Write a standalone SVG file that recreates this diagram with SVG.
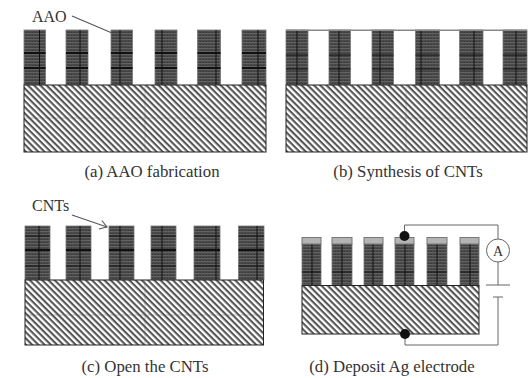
<svg xmlns="http://www.w3.org/2000/svg" width="531" height="378" viewBox="0 0 531 378">
<style>
text{font-family:"Liberation Serif",serif;fill:#333}
.cap{text-anchor:middle;font-size:16.800px}
.lab{font-size:16px}
.p{fill:url(#dark);stroke:#777;stroke-width:.8}
.b{fill:url(#hatch);stroke:#222;stroke-width:1}
.g{fill:#b4b4b4;stroke:#777;stroke-width:1}
.w{fill:none;stroke:#666;stroke-width:1}
.l{fill:none;stroke:#555;stroke-width:1.100}
.k{stroke:#111;stroke-width:1;fill:none}
.h{stroke:#111;stroke-width:2;fill:none}
.s{stroke:#555;stroke-width:.6;fill:none}
</style>
<defs>
<pattern id="hatch" width="4.400" height="4.400" patternUnits="userSpaceOnUse" patternTransform="rotate(45)">
<rect width="4.400" height="4.400" fill="#fff"/><rect width="4.400" height="2.100" fill="#555"/>
</pattern>
<pattern id="dark" width="3" height="3" patternUnits="userSpaceOnUse">
<rect width="3" height="3" fill="#4a4a4a"/><rect width="3" height="1" fill="#626262"/><rect x="1.500" y="2" width="1.500" height="1" fill="#3a3a3a"/>
</pattern>
<marker id="ah" markerWidth="10" markerHeight="12" refX="9" refY="5" orient="auto" markerUnits="userSpaceOnUse"><path d="M2 .5L9 5L2 9.500" fill="none" stroke="#555" stroke-width="1.100"/></marker>
</defs>
<g id="panel-a">
<rect class="p" x="24" y="30" width="21.500" height="55"/>
<rect class="p" x="66" y="30" width="22" height="55"/>
<rect class="p" x="111" y="30" width="21.500" height="55"/>
<rect class="p" x="155" y="30" width="22" height="55"/>
<rect class="p" x="197.500" y="30" width="23" height="55"/>
<rect class="p" x="242" y="30" width="24" height="55"/>
<path class="h" d="M24 53H45.500M66 53H88M111 53H132.500M155 53H177M197.500 53H220.500M242 53H266M24 68H45.500M66 68H88M111 68H132.500M155 68H177M197.500 68H220.500M242 68H266"/>
<path class="k" d="M39.500 30V85M80 30V85M120 30V85M162 30V85M216 30V85M258 30V85"/>
<rect class="b" x="24" y="85" width="242" height="67"/>
<path class="s" d="M145 85V152M24 118H266" opacity=".5"/>
<text class="lab" x="32" y="22">AAO</text>
<text class="cap" x="152" y="177">(a) AAO fabrication</text>
</g>
<g id="panel-b">
<rect class="p" x="286" y="30" width="22" height="55"/>
<rect class="p" x="329" y="30" width="21.500" height="55"/>
<rect class="p" x="372" y="30" width="21.500" height="55"/>
<rect class="p" x="415.500" y="30" width="24" height="55"/>
<rect class="p" x="459.500" y="30" width="23.500" height="55"/>
<rect class="p" x="503" y="30" width="24" height="55"/>
<path class="k" d="M286 55H308M329 55H350.500M372 55H393.500M415.500 55H439.500M459.500 55H483M503 55H527M286 69H308M329 69H350.500M372 69H393.500M415.500 69H439.500M459.500 69H483M503 69H527M297 30V85M339 30V85M380 30V85M421 30V85M474 30V85M516 30V85"/>
<rect x="286" y="29.500" width="241" height="1.500" fill="#888"/>
<rect class="b" x="286" y="85" width="241" height="67"/>
<path class="s" d="M406 85V152M286 118H527" opacity=".5"/>
<text class="cap" x="408" y="177">(b) Synthesis of CNTs</text>
</g>
<g id="panel-c">
<rect class="p" x="25" y="226" width="25" height="54"/>
<rect class="p" x="66" y="226" width="25" height="54"/>
<rect class="p" x="109" y="226" width="25" height="54"/>
<rect class="p" x="151" y="226" width="25" height="54"/>
<rect class="p" x="194" y="226" width="26" height="54"/>
<rect class="p" x="238.500" y="226" width="25.500" height="54"/>
<path class="h" d="M25 250H50M66 250H91M109 250H134M151 250H176M194 250H220M238.500 250H264"/>
<path class="k" d="M25 236H50M66 236H91M109 236H134M151 236H176M194 236H220M238.500 236H264M25 266H50M66 266H91M109 266H134M151 266H176M194 266H220M238.500 266H264M39 226V280M80 226V280M120 226V280M162 226V280M216 226V280M257 226V280"/>
<rect class="b" x="25" y="280" width="238.500" height="65"/>
<path class="s" d="M145 280V345M25 315H263.500" opacity=".6"/>
<text class="lab" x="32" y="211">CNTs</text>
<text class="cap" x="145" y="372">(c) Open the CNTs</text>
</g>
<g id="panel-d">
<rect class="p" x="302" y="244" width="19" height="41"/>
<rect class="p" x="332" y="244" width="20" height="41"/>
<rect class="p" x="364" y="244" width="19" height="41"/>
<rect class="p" x="395" y="244" width="19" height="41"/>
<rect class="p" x="427" y="244" width="20" height="41"/>
<rect class="p" x="460" y="244" width="19" height="41"/>
<path class="k" d="M302 272H321M332 272H352M364 272H383M395 272H414M427 272H447M460 272H479M312 244V285M342 244V285M373 244V285M405 244V285M437 244V285M470 244V285"/>
<rect class="g" x="302" y="237.500" width="19" height="6.500"/>
<rect class="g" x="332" y="237.500" width="20" height="6.500"/>
<rect class="g" x="364" y="237.500" width="19" height="6.500"/>
<rect class="g" x="395" y="237.500" width="19" height="6.500"/>
<rect class="g" x="427" y="237.500" width="20" height="6.500"/>
<rect class="g" x="460" y="237.500" width="19" height="6.500"/>
<rect class="b" x="302" y="285.500" width="177" height="48.500"/>
<text class="cap" x="392" y="372">(d) Deposit Ag electrode</text>
</g>
<g id="connectors">
<path class="l" d="M72 16L112 33"/>
<path class="l" d="M72 215L107 227" marker-end="url(#ah)"/>
<path class="w" d="M404.500 236V225H498V239M498 262V285M486 285H510M493 297H503M498 297V345H405V334"/>
</g>
<g id="ammeter">
<circle cx="498" cy="250.500" r="11.500" fill="#fff" stroke="#666"/>
<text x="498" y="255.500" text-anchor="middle" font-size="14">A</text>
</g>
<g id="contacts">
<circle cx="404.500" cy="236" r="5" fill="#111"/>
<circle cx="405" cy="334" r="5" fill="#111"/>
</g>
</svg>
